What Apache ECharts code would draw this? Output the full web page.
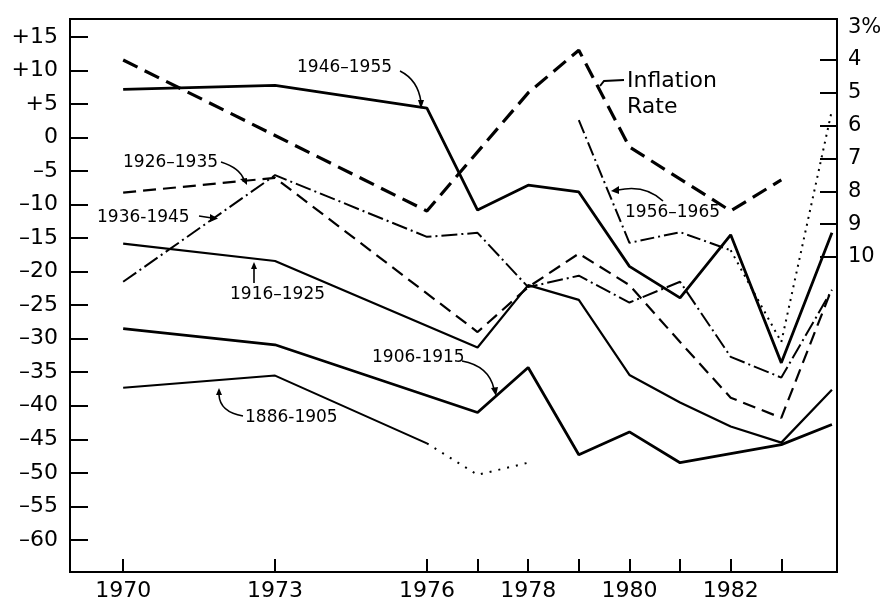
<!DOCTYPE html>
<html>
<head>
<meta charset="utf-8">
<script src="https://cdn.jsdelivr.net/npm/echarts@6/dist/echarts.min.js"></script>
<style>
  html, body { margin: 0; background: #fff; }
  #chart { width: 893px; height: 608px; }
</style>
</head>
<body>
<div id="chart"></div>
<script>
// years where the curves have a vertex (null = no vertex there)
const years = [1970, 1973, 1976, 1977, 1978, 1979, 1980, 1981, 1982, 1983, 1984];

const s1946 = [7.2, 7.8, 4.4, -10.8, -7.1, -8.1, -19.2, -23.9, -14.5, -33.6, -14.2];
const s1956 = [null, null, null, null, null, 2.6, -15.7, -14.1, -16.8, null, null];
const s1956dot = [null, null, null, null, null, null, null, null, -16.8, -30.5, 4.1];
const s1936 = [-21.5, -5.6, -14.8, -14.2, -22.3, -20.6, -24.6, -21.5, -32.7, -35.8, -22.7];
const s1926 = [-8.2, -6.0, null, -29.0, -22.3, -17.3, -22.0, -30.5, -38.8, -41.8, -22.5];
const s1916 = [-15.8, -18.4, null, -31.3, -22.0, -24.2, -35.4, -39.5, -43.1, -45.5, -37.6];
const s1906 = [-28.5, -30.9, null, -41.0, -34.3, -47.3, -43.9, -48.5, null, -45.8, -42.8];
const s1886 = [-37.3, -35.5, -45.6, null, null, null, null, null, null, null, null];
const s1886dot = [null, null, -45.6, -50.3, -48.5, null, null, null, null, null, null];
// inflation rate, % (right axis, inverted)
const inflation = [4.0, null, 8.6, null, 5.0, 3.7, 6.65, null, 8.6, 7.65, null];

const leftTicks = [15, 10, 5, 0, -5, -10, -15, -20, -25, -30, -35, -40, -45, -50, -55, -60];
const rightTicks = [4, 5, 6, 7, 8, 9, 10];
const rightLabels = [3, 4, 5, 6, 7, 8, 9, 10];
const xTicks = [1970, 1973, 1976, 1977, 1978, 1979, 1980, 1981, 1982, 1983];
const xLabels = [1970, 1973, 1976, 1978, 1980, 1982];

const FONT = '"DejaVu Sans", sans-serif';

function pairs(vals) {
  return years.map((y, i) => [y, vals[i]]);
}

function line(name, vals, width, type, axis) {
  return {
    name: name,
    type: 'line',
    yAxisIndex: axis || 0,
    data: pairs(vals),
    connectNulls: true,
    symbol: 'none',
    silent: true,
    lineStyle: { color: '#000', width: width, type: type, cap: 'butt' }
  };
}

const chart = echarts.init(document.getElementById('chart'));

// annotation text + arrows
function label(text, x, y, size) {
  return {
    type: 'text', x: x, y: y,
    style: { text: text, fill: '#000', font: (size || 17) + 'px ' + FONT, verticalAlign: 'middle' }
  };
}
function curve(x1, y1, cx, cy, x2, y2) {
  return {
    type: 'bezierCurve',
    shape: { x1: x1, y1: y1, cpx1: cx, cpy1: cy, x2: x2, y2: y2 },
    style: { stroke: '#000', lineWidth: 1.6, fill: null }
  };
}
function head(points) {
  return { type: 'polygon', shape: { points: points }, style: { fill: '#000' } };
}

const notes = [
  label('1946–1955', 297, 68),
  curve(400, 71, 418, 80, 421, 102), head([[418, 100], [424, 100], [421, 109]]),

  label('Inflation', 627, 81, 22),
  label('Rate', 627, 107, 22),
  { type: 'polyline', shape: { points: [[624, 80], [604, 81], [600, 86]] },
    style: { stroke: '#000', lineWidth: 2, fill: null } },

  label('1926–1935', 123, 163),
  curve(221, 162, 240, 168, 244, 180), head([[240, 179], [247, 178], [247, 185]]),

  label('1936-1945', 97, 218),
  { type: 'line', shape: { x1: 199, y1: 216, x2: 212, y2: 218 }, style: { stroke: '#000', lineWidth: 1.6 } },
  head([[210, 214], [218, 218.5], [210, 222]]),

  label('1916–1925', 230, 295),
  { type: 'line', shape: { x1: 254, y1: 283, x2: 254, y2: 268 }, style: { stroke: '#000', lineWidth: 1.6 } },
  head([[251, 269], [257, 269], [254, 262]]),

  label('1906-1915', 372, 358),
  curve(462, 361, 489, 366, 494, 389), head([[491, 388], [498, 387], [496, 396]]),

  label('1886-1905', 245, 418),
  curve(243, 416, 220, 412, 219, 395), head([[216, 395], [222, 395], [219, 388]]),

  label('1956–1965', 625, 213),
  curve(663, 201, 645, 184, 618, 190), head([[619, 186], [619, 194], [611, 191]])
];

chart.setOption({
  animation: false,
  backgroundColor: '#fff',
  grid: {
    left: 70, right: 56, top: 19, bottom: 36,
    show: true, borderColor: '#000', borderWidth: 2
  },
  xAxis: {
    type: 'value',
    min: 1968.95,
    max: 1984.1,
    axisLine: { show: true, onZero: false, lineStyle: { color: '#000', width: 2 } },
    axisTick: { show: true, inside: true, length: 13, customValues: xTicks, lineStyle: { color: '#000', width: 2 } },
    axisLabel: {
      customValues: xLabels, color: '#000', fontSize: 22, fontFamily: FONT, margin: 8,
      formatter: v => String(v)
    },
    splitLine: { show: false }
  },
  yAxis: [
    {
      type: 'value',
      position: 'left',
      min: -64.8,
      max: 17.7,
      axisLine: { show: true, onZero: false, lineStyle: { color: '#000', width: 2 } },
      axisTick: { show: true, inside: true, length: 18, customValues: leftTicks, lineStyle: { color: '#000', width: 2 } },
      axisLabel: {
        customValues: leftTicks, color: '#000', fontSize: 22, fontFamily: FONT, margin: 12,
        formatter: v => v > 0 ? '+' + v : (v < 0 ? '–' + (-v) : '0')
      },
      splitLine: { show: false }
    },
    {
      type: 'value',
      position: 'right',
      inverse: true,
      min: 2.75,
      max: 19.6,
      axisLine: { show: true, onZero: false, lineStyle: { color: '#000', width: 2 } },
      axisTick: { show: true, inside: true, length: 17, customValues: rightTicks, lineStyle: { color: '#000', width: 2 } },
      axisLabel: {
        customValues: rightLabels, color: '#000', fontSize: 21, fontFamily: FONT, margin: 11,
        formatter: v => v === 3 ? '3%' : String(v)
      },
      splitLine: { show: false }
    }
  ],
  series: [
    line('1946-1955', s1946, 2.8, 'solid'),
    line('1956-1965', s1956, 2, [14, 4, 2, 4]),
    line('1956-1965', s1956dot, 2, [2, 5]),
    line('1936-1945', s1936, 2, [16, 4, 2, 4]),
    line('1926-1935', s1926, 2.2, [13, 7]),
    line('1916-1925', s1916, 2.2, 'solid'),
    line('1906-1915', s1906, 2.8, 'solid'),
    line('1886-1905', s1886, 2, 'solid'),
    line('1886-1905', s1886dot, 2, [2, 7]),
    line('Inflation Rate', inflation, 3.2, [16, 8], 1)
  ],
  graphic: notes
});
</script>
</body>
</html>
